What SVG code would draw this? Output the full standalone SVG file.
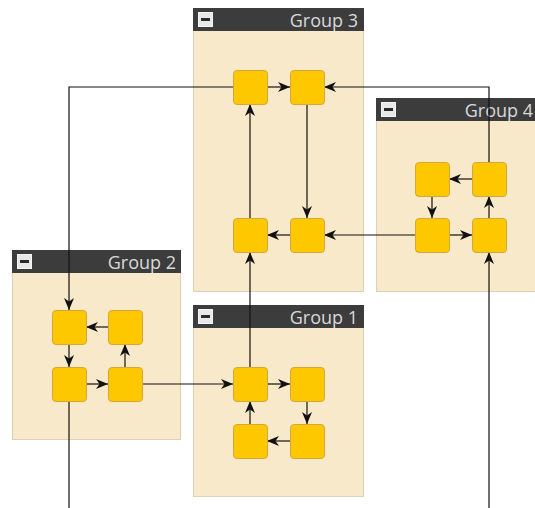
<svg xmlns="http://www.w3.org/2000/svg" width="535" height="508" viewBox="0 0 535 508">
  <style>
    .body { fill: #f7e9c9; stroke: #ddd2b4; stroke-width: 1; }
    .head { fill: #3c3c3c; }
    .title { font-family: "Open Sans", "Noto Sans", sans-serif; font-size: 18px; fill: #d9d9d9; text-anchor: end; }
    .btn { fill: #e8e8e8; stroke: #f4f4f4; stroke-width: 1; }
    .minus { fill: #2a2a2a; }
    .node { fill: #fec800; stroke: #d7a838; stroke-width: 1; }
    .edge { fill: none; stroke: #111; stroke-width: 1.2; marker-end: url(#arrow); }
  </style>
  <defs>
    <marker id="arrow" viewBox="0 0 12 10" refX="12" refY="5" markerWidth="12" markerHeight="10" markerUnits="userSpaceOnUse" orient="auto">
      <path d="M0,0 L12,5 L0,10 L3.5,5 Z" fill="#111"/>
    </marker>
  </defs>

  <rect x="0" y="0" width="535" height="508" fill="#ffffff"/>

  <!-- group containers -->
  <g id="group3">
    <rect class="body" x="193.5" y="8.5" width="170" height="283"/>
    <rect class="head" x="193" y="8" width="171" height="23"/>
    <rect class="btn" x="198.5" y="12.5" width="14" height="14"/>
    <rect class="minus" x="201" y="18" width="9" height="3"/>
    <text class="title" x="358" y="26.5">Group 3</text>
  </g>
  <g id="group4">
    <rect class="body" x="376.5" y="98.5" width="170" height="193"/>
    <rect class="head" x="376" y="98" width="171" height="23"/>
    <rect class="btn" x="381.5" y="102.5" width="14" height="14"/>
    <rect class="minus" x="384" y="108" width="9" height="3"/>
    <text class="title" x="533" y="116.5">Group 4</text>
  </g>
  <g id="group2">
    <rect class="body" x="12.5" y="250.5" width="168" height="189"/>
    <rect class="head" x="12" y="250" width="169" height="23"/>
    <rect class="btn" x="17.5" y="254.5" width="14" height="14"/>
    <rect class="minus" x="20" y="260" width="9" height="3"/>
    <text class="title" x="176" y="268.5">Group 2</text>
  </g>
  <g id="group1">
    <rect class="body" x="193.5" y="305.5" width="170" height="191"/>
    <rect class="head" x="193" y="305" width="171" height="23"/>
    <rect class="btn" x="198.5" y="309.5" width="14" height="14"/>
    <rect class="minus" x="201" y="315" width="9" height="3"/>
    <text class="title" x="358" y="323.5">Group 1</text>
  </g>

  <!-- connectors -->
  <g id="connectors">
    <!-- inside group 3 -->
    <path class="edge" d="M267,87 H290"/>
    <path class="edge" d="M307,104 V218"/>
    <path class="edge" d="M290,235 H267"/>
    <path class="edge" d="M250,218 V104"/>
    <!-- inside group 4 -->
    <path class="edge" d="M472,179 H449"/>
    <path class="edge" d="M432,196 V218"/>
    <path class="edge" d="M449,235 H472"/>
    <path class="edge" d="M489,218 V196"/>
    <!-- inside group 2 -->
    <path class="edge" d="M69,344 V367"/>
    <path class="edge" d="M86,384 H108"/>
    <path class="edge" d="M125,367 V344"/>
    <path class="edge" d="M108,327 H86"/>
    <!-- inside group 1 -->
    <path class="edge" d="M267,384 H290"/>
    <path class="edge" d="M307,401 V424"/>
    <path class="edge" d="M290,441 H267"/>
    <path class="edge" d="M250,424 V401"/>
    <!-- between groups -->
    <path class="edge" d="M489,162 V87 H324"/>
    <path class="edge" d="M415,235 H324"/>
    <path class="edge" d="M233,87 H69 V310"/>
    <path class="edge" d="M142,384 H233"/>
    <path class="edge" d="M250,367 V252"/>
    <path class="edge" d="M69,401 V520 H489 V252"/>
  </g>

  <!-- nodes -->
  <g id="n3a"><rect class="node" x="233.5" y="70.5" width="34" height="34" rx="3.5"/></g>
  <g id="n3b"><rect class="node" x="290.5" y="70.5" width="34" height="34" rx="3.5"/></g>
  <g id="n3c"><rect class="node" x="233.5" y="218.5" width="34" height="34" rx="3.5"/></g>
  <g id="n3d"><rect class="node" x="290.5" y="218.5" width="34" height="34" rx="3.5"/></g>

  <g id="n4a"><rect class="node" x="415.5" y="162.5" width="34" height="34" rx="3.5"/></g>
  <g id="n4b"><rect class="node" x="472.5" y="162.5" width="34" height="34" rx="3.5"/></g>
  <g id="n4c"><rect class="node" x="415.5" y="218.5" width="34" height="34" rx="3.5"/></g>
  <g id="n4d"><rect class="node" x="472.5" y="218.5" width="34" height="34" rx="3.5"/></g>

  <g id="n2a"><rect class="node" x="52.5" y="310.5" width="34" height="34" rx="3.5"/></g>
  <g id="n2b"><rect class="node" x="108.5" y="310.5" width="34" height="34" rx="3.5"/></g>
  <g id="n2c"><rect class="node" x="52.5" y="367.5" width="34" height="34" rx="3.5"/></g>
  <g id="n2d"><rect class="node" x="108.5" y="367.5" width="34" height="34" rx="3.5"/></g>

  <g id="n1a"><rect class="node" x="233.5" y="367.5" width="34" height="34" rx="3.5"/></g>
  <g id="n1b"><rect class="node" x="290.5" y="367.5" width="34" height="34" rx="3.5"/></g>
  <g id="n1c"><rect class="node" x="233.5" y="424.5" width="34" height="34" rx="3.5"/></g>
  <g id="n1d"><rect class="node" x="290.5" y="424.5" width="34" height="34" rx="3.5"/></g>
</svg>
